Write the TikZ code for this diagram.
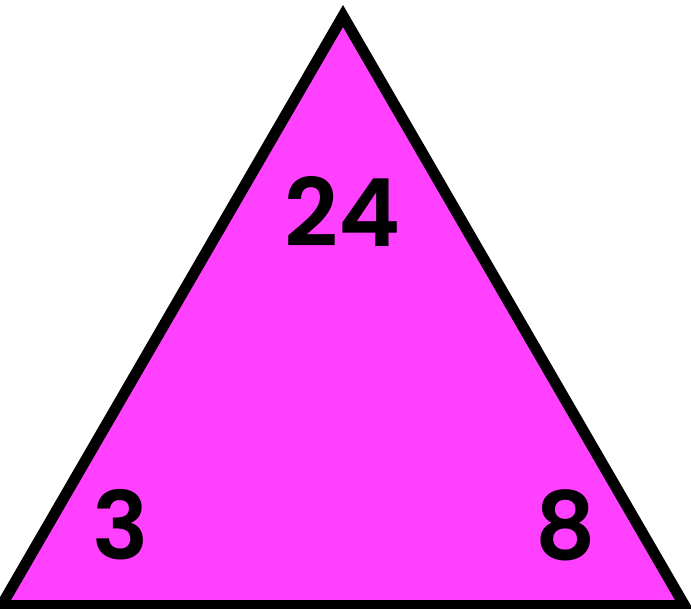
\documentclass[tikz,border=0pt]{standalone}
\usepackage{fontspec}
\setmainfont{Poppins}[BoldFont={* SemiBold}]
\definecolor{tri}{HTML}{FF40FF}
\begin{document}
\begin{tikzpicture}[x=1pt,y=-1pt,
  num/.style={font=\fontsize{94}{94}\selectfont\bfseries, inner sep=0pt, anchor=center}]
\useasboundingbox (0,0) rectangle (691,609);
\coordinate (A) at (343,16);
\coordinate (L) at (1.5,605.5);
\coordinate (R) at (684.5,605.5);
\draw[line width=11pt, fill=tri, miter limit=10, line join=miter] (A) -- (L) -- (R) -- cycle;
\node[num] (n24) at (343,211) {\vphantom{0}24};
\node[num] (n3) at (121,525) {3};
\node[num] (n8) at (566,525) {8};
\end{tikzpicture}
\end{document}
